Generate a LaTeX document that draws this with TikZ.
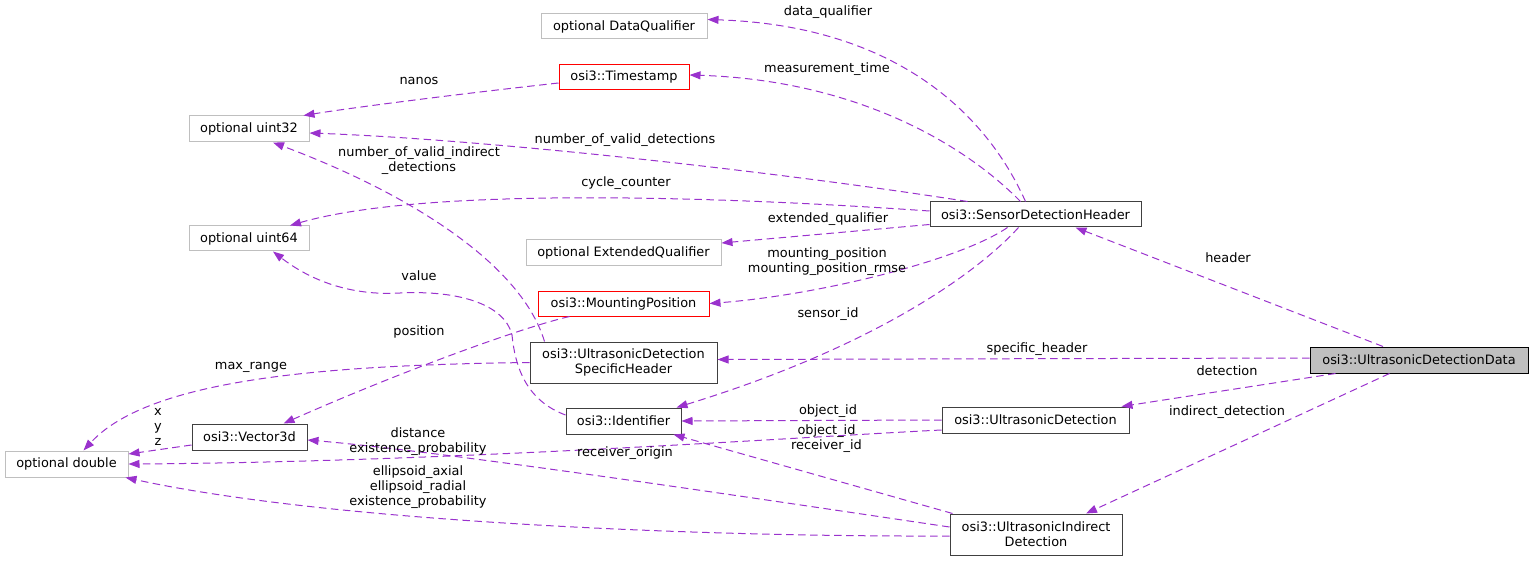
\documentclass[tikz,border=0pt]{standalone}
\usepackage{fontspec}
\setmainfont{DejaVu Sans}
\usetikzlibrary{arrows.meta,calc}
\definecolor{purp}{HTML}{9A32CD}
\definecolor{gborder}{HTML}{BFBFBF}
\definecolor{dborder}{HTML}{404040}
\definecolor{rootfill}{HTML}{BFBFBF}
\definecolor{truncred}{HTML}{FF0000}
\begin{document}
\begin{tikzpicture}[x=1pt,y=-1pt,
  every node/.style={font=\fontsize{12.9}{15}\selectfont, inner sep=0pt},
  cls/.style={draw=dborder, line width=1pt, minimum height=26pt, align=center},
  ext/.style={cls, draw=gborder},
  truncbox/.style={draw=truncred, line width=1pt, minimum height=26pt, align=center},
  lbl/.style={align=center},
  edge/.style={draw=purp, line width=1pt, dash pattern=on 7.5pt off 4.5pt, -{Triangle[length=11pt,width=8pt]}}
]
\useasboundingbox (0,0) rectangle (1533,561);
% class nodes
\node[ext, minimum width=166pt, minimum height=25pt] (dq) at (624,26.5) {optional DataQualifier};
\node[truncbox, draw=truncred, minimum width=130pt, minimum height=25.5pt] (tstamp) at (624,77) {osi3::Timestamp};
\node[ext, minimum width=120pt] (u32) at (249,129) {optional uint32};
\node[ext, minimum width=120pt, minimum height=25pt] (u64) at (249,238.5) {optional uint64};
\node[ext, minimum width=195pt] (eq) at (623.5,253) {optional ExtendedQualifier};
\node[cls, minimum width=211pt, minimum height=25pt] (sdh) at (1035.5,214.5) {osi3::SensorDetectionHeader};
\node[truncbox, minimum width=171pt, minimum height=25pt] (mp) at (623.5,303.5) {osi3::MountingPosition};
\node[cls, minimum width=187pt, minimum height=41pt] (sh) at (623.5,362.5) {osi3::UltrasonicDetection\\SpecificHeader};
\node[cls, minimum width=115pt] (id) at (623.5,421) {osi3::Identifier};
\node[cls, minimum width=187pt] (ud) at (1035.5,420) {osi3::UltrasonicDetection};
\node[cls, minimum width=172pt, minimum height=41pt] (ind) at (1036,534.5) {osi3::UltrasonicIndirect\\Detection};
\node[cls, fill=rootfill, draw=black, minimum width=218pt] (udd) at (1419,360) {osi3::UltrasonicDetectionData};
\node[cls, minimum width=115pt] (v3) at (249.5,437) {osi3::Vector3d};
\node[ext, minimum width=123pt] (dbl) at (66.5,464) {optional double};
% connectors
\draw[edge] ($(sdh.north)+(-10,0)$) .. controls (980,100) and (880,25) .. ($(dq.east)+(0,-7)$);
\draw[edge] ($(sdh.north)+(-15,0)$) .. controls (960,140) and (850,80) .. ($(tstamp.east)+(0,-2)$);
\draw[edge] ($(tstamp.west)+(0,6)$) .. controls (450,95) and (350,108) .. ($(u32.north east)+(-6,0)$);
\draw[edge] ($(sdh.north west)+(38,0)$) .. controls (800,175) and (500,140) .. ($(u32.east)+(0,4)$);
\draw[edge] ($(sh.north west)+(15,0)$) .. controls (520,260) and (400,190) .. ($(u32.south)+(24,0)$);
\draw[edge] ($(sdh.west)+(0,-3.5)$) .. controls (700,195) and (420,188) .. ($(u64.north)+(41,0)$);
\draw[edge] ($(sdh.west)+(0,10)$) -- ($(eq.east)+(0,-10)$);
\draw[edge] ($(sdh.south)+(-28,0)$) .. controls (960,260) and (820,295) .. (mp.east);
\draw[edge] ($(sdh.south)+(-17,0)$) .. controls (980,270) and (880,345) .. ($(id.north east)+(-5,0)$);
\draw[edge] ($(mp.south west)+(32,0)$) .. controls (520,328) and (400,372) .. ($(v3.north)+(34,0)$);
\draw[edge] (sh.west) .. controls (330,365) and (150,378) .. ($(dbl.north)+(17,0)$);
\draw[edge] ($(id.west)+(0,-6)$) .. controls (525,400) and (515,365) .. (512,335) .. controls (505,305) and (460,290) .. (400,293) .. controls (350,296) and (310,280) .. ($(u64.south)+(24,0)$);
\draw[edge] ($(v3.west)+(0,8)$) -- ($(dbl.east)+(0,-10)$);
\draw[edge] (ud.west) -- (id.east);
\draw[edge] ($(ud.west)+(0,10)$) .. controls (800,437) and (450,462) .. (dbl.east);
\draw[edge] ($(ind.west)+(0,-7.5)$) .. controls (800,505) and (450,452) .. ($(v3.east)+(0,3)$);
\draw[edge] ($(ind.north west)+(3,0)$) -- ($(id.south east)+(-8,0)$);
\draw[edge] ($(ind.west)+(0,1.5)$) .. controls (700,537) and (330,522) .. ($(dbl.south east)+(-3,0)$);
\draw[edge] ($(udd.north)+(-36,0)$) -- ($(sdh.south)+(40,0)$);
\draw[edge] ($(udd.west)+(0,-2)$) -- ($(sh.east)+(0,-3)$);
\draw[edge] ($(udd.south west)+(26,0)$) -- ($(ud.north east)+(-8,0)$);
\draw[edge] ($(udd.south west)+(80,0)$) -- ($(ind.north)+(50,0)$);
% labels
\node[lbl] (l1) at (828,12) {data\_qualifier};
\node[lbl] (l2) at (827,69) {measurement\_time};
\node[lbl] (l3) at (419,81) {nanos};
\node[lbl] (l4) at (625,140) {number\_of\_valid\_detections};
\node[lbl] (l5) at (419,161) {number\_of\_valid\_indirect\\\_detections};
\node[lbl] (l6) at (626,183) {cycle\_counter};
\node[lbl] (l7) at (828,219) {extended\_qualifier};
\node[lbl] (l8) at (827,262) {mounting\_position\\mounting\_position\_rmse};
\node[lbl] (l9) at (419,276) {value};
\node[lbl] (l10) at (419,332) {position};
\node[lbl] (l11) at (828,314) {sensor\_id};
\node[lbl] (l12) at (251,367) {max\_range};
\node[lbl] (l13) at (1037,349) {specific\_header};
\node[lbl] (l14) at (1228,258) {header};
\node[lbl] (l15) at (1227,371) {detection};
\node[lbl] (l16) at (1227,412) {indirect\_detection};
\node[lbl] (l17) at (158,427) {x\\y\\z};
\node[lbl] (l18) at (418,441.5) {distance\\existence\_probability};
\node[lbl] (l19) at (418,487) {ellipsoid\_axial\\ellipsoid\_radial\\existence\_probability};
\node[lbl] (l20) at (828,411) {object\_id};
\node[lbl] (l21) at (826.5,438.5) {object\_id\\receiver\_id};
\node[lbl] (l22) at (625,453) {receiver\_origin};
\end{tikzpicture}
\end{document}
